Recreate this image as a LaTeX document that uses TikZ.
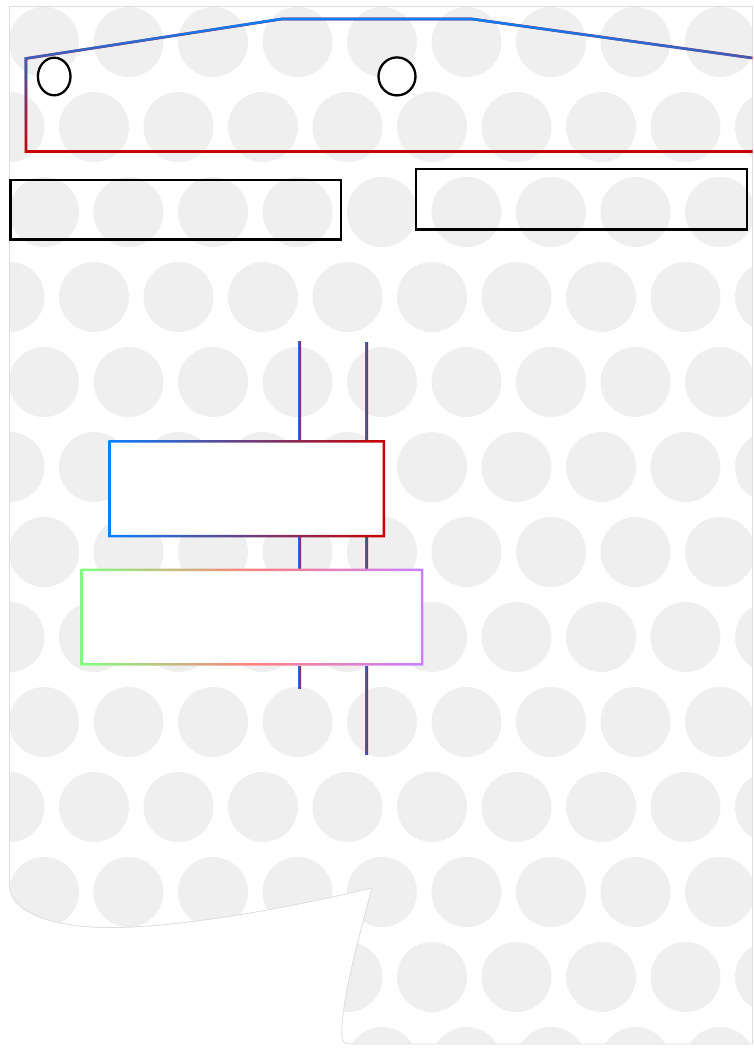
\documentclass[tikz,border=0pt]{standalone}
\usetikzlibrary{shapes.geometric,fadings}

\definecolor{dotgray}{HTML}{EFEFEF}
\definecolor{edgegray}{HTML}{DDDDDD}
\definecolor{gblue}{HTML}{0A80FF}
\definecolor{gred}{HTML}{CC0000}
\definecolor{ggreen}{HTML}{80FF80}
\definecolor{gsalmon}{HTML}{FF8080}
\definecolor{gviolet}{HTML}{C880FF}
\definecolor{wireblue}{HTML}{2A66E0}
\definecolor{wirered}{HTML}{B01828}

\tikzfading[name=fade down, top color=transparent!0, bottom color=transparent!100]

% outline of the sheet with the curled corner
\newcommand\sheetoutline{(9.5,6.5) -- (752.5,6.5) -- (752.5,1044) -- (350,1044) .. controls (345,1044) and (342.5,1042) .. (342,1037) .. controls (340,1010) and (355,950) .. (372,888) .. controls (300,905) and (200,925) .. (120,927.5) .. controls (60,929) and (9.5,915) .. (9.5,885) -- cycle}

\begin{document}
\begin{tikzpicture}[x=1pt, y=-1pt,
	bgdot/.style={fill=dotgray},
	frame/.style={shape=rectangle, draw=black, line width=2.3pt, inner sep=0pt, outer sep=0pt},
	panel/.style={shape=rectangle, fill=white, inner sep=0pt, outer sep=0pt},
	hole/.style={shape=ellipse, draw=black, fill=white, line width=2.3pt, inner sep=0pt}]
	\useasboundingbox (0,0) rectangle (753,1050);
	\fill[white] (0,0) rectangle (753,1050);
	% Sheet and dot pattern:
	\fill[white] \sheetoutline;
	\begin{scope}
		\clip \sheetoutline;
		\foreach \k in {0,...,6}{
			\foreach \j in {-1,...,9}{
				\fill[bgdot] (44+84.5*\j, 42+170*\k) circle[radius=35];
			}
		}
		\foreach \k in {0,...,5}{
			\foreach \j in {0,...,9}{
				\fill[bgdot] (9.5+84.5*\j, 127+170*\k) circle[radius=35];
			}
		}
	\end{scope}
	\draw[edgegray, line width=0.8pt] \sheetoutline;
	% Roof outline:
	\draw[gred, line width=2.6pt] (752.5,58) -- (472,19) -- (282,19) -- (26,58.5) -- (26,151.5) -- (752.5,151.5);
	\draw[gblue, line width=2.6pt, path fading=fade down] (752.5,58) -- (472,19) -- (282,19) -- (26,58.5) -- (26,151.5) -- (752.5,151.5);
	% Holes and bars:
	\node[hole, minimum width=32.6pt, minimum height=37.6pt] (e1) at (54.2,76.5) {};
	\node[hole, minimum width=37pt, minimum height=38pt] (e2) at (397,76.4) {};
	\node[frame, minimum width=330.5pt, minimum height=59.5pt] (r1) at (175.75,209.75) {};
	\node[frame, minimum width=331pt, minimum height=60.5pt] (r2) at (581.5,199.25) {};
	% Wires:
	\coordinate (w1a) at (298,341);
	\coordinate (w1b) at (301,688);
	\coordinate (w2a) at (365,342);
	\coordinate (w2b) at (368,754);
	\shade[left color=wireblue, right color=wirered] (w1a) rectangle (w1b);
	\shade[left color=wireblue, right color=wirered] (w2a) rectangle (w2b);
	% Panels:
	\node[panel, minimum width=276.7pt, minimum height=97.3pt] (b1) at (246.65,488.65) {};
	\shade[even odd rule, left color=gblue, right color=gred] (b1.north west) rectangle (b1.south east) ([xshift=2.5pt,yshift=-2.5pt]b1.north west) rectangle ([xshift=-2.5pt,yshift=2.5pt]b1.south east);
	\node[panel, minimum width=342.6pt, minimum height=97pt] (b2) at (252,617) {};
	\shade[even odd rule, left color=ggreen, right color=gviolet, middle color=gsalmon] (b2.north west) rectangle (b2.south east) ([xshift=2.5pt,yshift=-2.5pt]b2.north west) rectangle ([xshift=-2.5pt,yshift=2.5pt]b2.south east);
\end{tikzpicture}
\end{document}
